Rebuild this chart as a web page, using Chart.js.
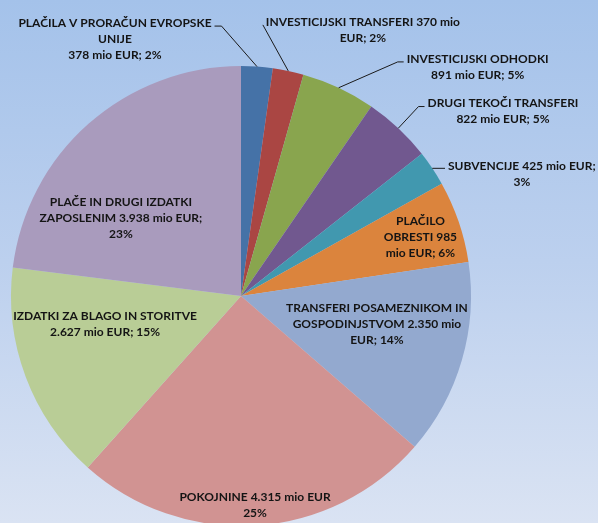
<!DOCTYPE html>
<html>
<head>
<meta charset="utf-8">
<script src="https://cdn.jsdelivr.net/npm/chart.js@4/dist/chart.umd.min.js"></script>
<style>
  html, body { margin: 0; padding: 0; }
  #wrap {
    width: 598px; height: 523px; overflow: hidden; position: relative;
    background: linear-gradient(to bottom, #a4c2ea 0%, #bcd0ee 50%, #dae3f3 100%);
  }
  #wrap canvas { position: absolute; left: 0; top: 0; }
</style>
</head>
<body>
<div id="wrap"><canvas id="pie" width="598" height="530"></canvas></div>
<script>
// kategorije in vrednosti (mio EUR)
const categories = [
    'PLAČILA V PRORAČUN EVROPSKE UNIJE',
    'INVESTICIJSKI TRANSFERI',
    'INVESTICIJSKI ODHODKI',
    'DRUGI TEKOČI TRANSFERI',
    'SUBVENCIJE',
    'PLAČILO OBRESTI',
    'TRANSFERI POSAMEZNIKOM IN GOSPODINJSTVOM',
    'POKOJNINE',
    'IZDATKI ZA BLAGO IN STORITVE',
    'PLAČE IN DRUGI IZDATKI ZAPOSLENIM'
];
const values = [378, 370, 891, 822, 425, 985, 2350, 4315, 2627, 3938];
const percents = ['2%', '2%', '5%', '5%', '3%', '6%', '14%', '25%', '15%', '23%'];
const amounts = ['378', '370', '891', '822', '425', '985', '2.350', '4.315', '2.627', '3.938'];

const colors = ['#4572a7', '#aa4643', '#89a54e', '#71588f', '#4198af', '#db843d',
                '#93a9cf', '#d19392', '#b9cd96', '#a99bbd'];

// besedilo nalepk, kot je prelomljeno v originalu
const labelLines = [
    ['PLAČILA V PRORAČUN EVROPSKE', 'UNIJE', amounts[0] + ' mio EUR; ' + percents[0]],
    ['INVESTICIJSKI TRANSFERI ' + amounts[1] + ' mio', 'EUR; ' + percents[1]],
    ['INVESTICIJSKI ODHODKI', amounts[2] + ' mio EUR; ' + percents[2]],
    ['DRUGI TEKOČI TRANSFERI', amounts[3] + ' mio EUR; ' + percents[3]],
    ['SUBVENCIJE ' + amounts[4] + ' mio EUR;', percents[4]],
    ['PLAČILO', 'OBRESTI ' + amounts[5], 'mio EUR; ' + percents[5]],
    ['TRANSFERI POSAMEZNIKOM IN', 'GOSPODINJSTVOM ' + amounts[6] + ' mio', 'EUR; ' + percents[6]],
    ['POKOJNINE ' + amounts[7] + ' mio EUR', percents[7]],
    ['IZDATKI ZA BLAGO IN STORITVE', amounts[8] + ' mio EUR; ' + percents[8]],
    ['PLAČE IN DRUGI IZDATKI', 'ZAPOSLENIM ' + amounts[9] + ' mio EUR;', percents[9]]
];

// središče bloka nalepke glede na središče torte (v enotah polmera)
const labelPos = [
    [-0.548, -1.117], [0.530, -1.157], [1.029, -0.996], [1.139, -0.802],
    [1.221, -0.530], [0.780, -0.254], [0.591, 0.122], [0.061, 0.911],
    [-0.591, 0.124], [-0.522, -0.339]
];
const leader = [
    { side: 'right', elbow: 7 }, { side: 'left', elbow: 0 }, { side: 'left', elbow: 6 },
    { side: 'left', elbow: 6 }, { side: 'left', elbow: 0, flat: true }, null, null, null, null, null
];
const lineH = 16;
const labelFont = 'bold 12px Lato, "Open Sans", sans-serif';

const sliceLabels = {
    id: 'sliceLabels',
    afterDatasetsDraw(chart) {
        const ctx = chart.ctx;
        const arcs = chart.getDatasetMeta(0).data;
        ctx.save();
        ctx.font = labelFont;
        ctx.fillStyle = '#141414';
        ctx.textAlign = 'center';
        ctx.textBaseline = 'middle';
        arcs.forEach((arc, i) => {
            const r = arc.outerRadius;
            const cx = arc.x + labelPos[i][0] * r;
            const cy = arc.y + labelPos[i][1] * r;
            const lines = labelLines[i];
            const top = cy - (lines.length - 1) * lineH / 2;
            lines.forEach((t, k) => ctx.fillText(t, cx, top + k * lineH));

            const ld = leader[i];
            if (!ld) return;
            const mid = (arc.startAngle + arc.endAngle) / 2;
            const px = arc.x + Math.cos(mid) * r;
            const py = arc.y + Math.sin(mid) * r;
            const w0 = ctx.measureText(lines[0]).width;
            const ly = top + 3;
            const ex = ld.side === 'right' ? cx + w0 / 2 + 3 : cx - w0 / 2 - 3;
            ctx.beginPath();
            ctx.strokeStyle = '#1a1a1a';
            ctx.lineWidth = 1;
            ctx.moveTo(px, py);
            if (ld.elbow) {
                const bx = ld.side === 'right' ? ex + ld.elbow : ex - ld.elbow;
                ctx.lineTo(bx, ly);
                ctx.lineTo(ex, ly);
            } else if (ld.flat) {
                ctx.lineTo(ex, py);
            } else {
                ctx.lineTo(ex, ly);
            }
            ctx.stroke();
        });
        ctx.restore();
    }
};

new Chart(document.getElementById('pie'), {
    type: 'pie',
    data: {
        labels: categories,
        datasets: [{
            data: values,
            backgroundColor: colors,
            borderWidth: 0
        }]
    },
    options: {
        responsive: false,
        animation: false,
        layout: { padding: { left: 11, right: 127, top: 66, bottom: 4 } },
        plugins: { legend: { display: false }, tooltip: { enabled: false } }
    },
    plugins: [sliceLabels]
});
</script>
</body>
</html>
